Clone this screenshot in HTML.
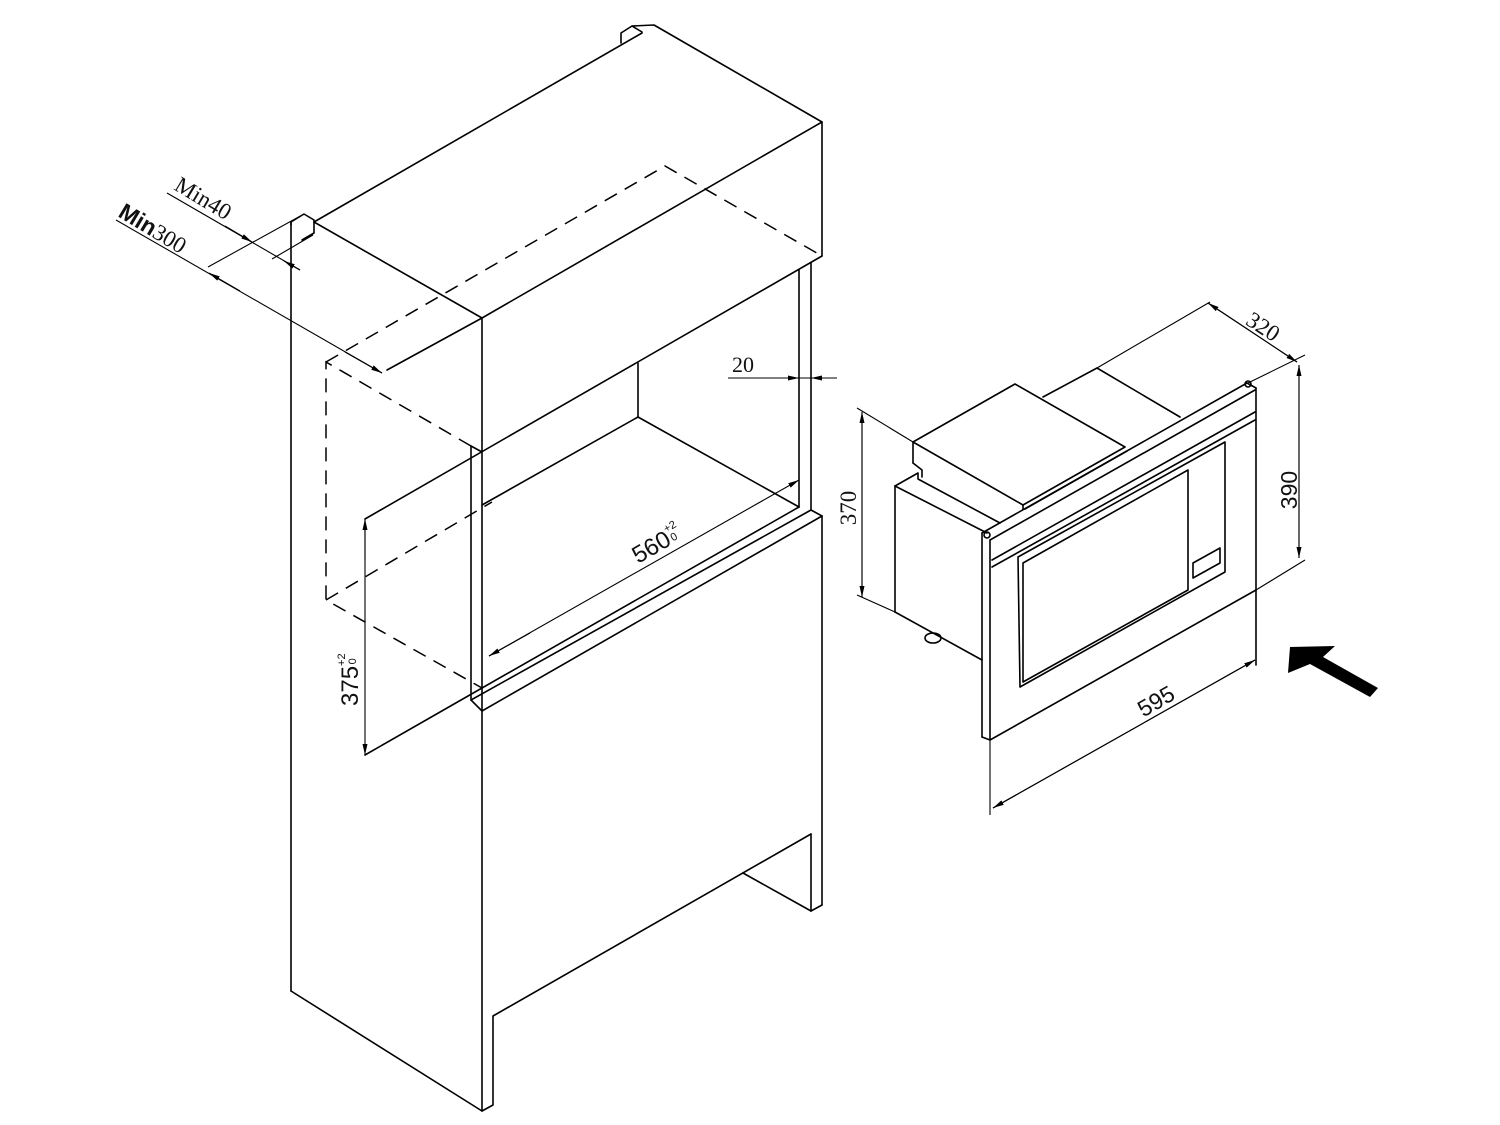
<!DOCTYPE html>
<html><head><meta charset="utf-8"><style>
html,body{margin:0;padding:0;background:#fff;}
svg{display:block;}
.s{stroke:#000;stroke-width:1.6;fill:none;stroke-linecap:round;stroke-linejoin:round;}
.d{stroke:#000;stroke-width:1.5;fill:none;stroke-dasharray:14 9;}
.t{stroke:#000;stroke-width:1.1;fill:none;}
.sans{font-family:"Liberation Sans",sans-serif;fill:#111;}
.serif{font-family:"Liberation Serif",serif;fill:#111;}
</style></head><body>
<svg width="1500" height="1125" viewBox="0 0 1500 1125" xmlns="http://www.w3.org/2000/svg">
<defs>
<marker id="a" markerUnits="userSpaceOnUse" markerWidth="12" markerHeight="6" refX="11" refY="3" orient="auto">
<path d="M0,0.5 L11,3 L0,5.5 Z" fill="#000"/></marker>
</defs>

<g class="s">
<polyline points="314,222 642,33"/>
<polyline points="621,43 621,33 632,26 642,32"/>
<polyline points="632,26 654,25 822,122 822,256"/>
<polyline points="822,122 482,318 314,222"/>
<polyline points="291,225 291,222 304,214 314,220 314,233 302,240"/>
<line x1="387" y1="370" x2="482" y2="318"/>
<line x1="482" y1="318" x2="482" y2="1111"/>
<line x1="365" y1="519" x2="822" y2="256"/>
<line x1="291" y1="222" x2="291" y2="991"/>
<line x1="291" y1="991" x2="482" y2="1111"/>
<polyline points="471,446 482,452"/>
<line x1="471" y1="446" x2="471" y2="700"/>
<line x1="638" y1="363" x2="638" y2="417"/>
<line x1="638" y1="417" x2="799" y2="507"/>
<line x1="638" y1="417" x2="482" y2="505"/>
<line x1="799" y1="270" x2="799" y2="507"/>
<line x1="811" y1="263" x2="811" y2="510"/>
<line x1="482" y1="688" x2="799" y2="507"/>
<line x1="471" y1="700" x2="811" y2="510"/>
<line x1="471" y1="700" x2="482" y2="711"/>
<line x1="482" y1="711" x2="822" y2="516"/>
<line x1="811" y1="510" x2="822" y2="516"/>
<line x1="822" y1="516" x2="822" y2="905"/>
<line x1="811" y1="834" x2="811" y2="911"/>
<line x1="811" y1="911" x2="822" y2="905"/>
<line x1="743" y1="873" x2="811" y2="911"/>
<polyline points="811,834 493,1016 493,1105 482,1111"/>
<line x1="365" y1="755" x2="482" y2="688"/>
</g>

<g class="d">
<polyline points="326,362 665,166 822,256"/>
<polyline points="471,446 326,362 326,600 482,688"/>
<line x1="326" y1="600" x2="492" y2="502"/>
</g>

<g class="t">
<line x1="167" y1="193" x2="300" y2="270"/>
<line x1="225" y1="226" x2="252" y2="242" marker-end="url(#a)"/>
<line x1="300" y1="270" x2="284" y2="261" marker-end="url(#a)"/>
<line x1="272" y1="259" x2="313" y2="235"/>
<line x1="116" y1="220" x2="382" y2="373"/>
<line x1="240" y1="291" x2="209" y2="273" marker-end="url(#a)"/>
<line x1="345" y1="352" x2="382" y2="373" marker-end="url(#a)"/>
<line x1="208" y1="267" x2="304" y2="214"/>
<line x1="728" y1="378" x2="837" y2="378"/>
<line x1="765" y1="378" x2="799" y2="378" marker-end="url(#a)"/>
<line x1="837" y1="378" x2="811" y2="378" marker-end="url(#a)"/>
<line x1="530" y1="633" x2="489" y2="656" marker-end="url(#a)"/>
<line x1="489" y1="656" x2="799" y2="480" marker-end="url(#a)"/>
<line x1="365" y1="560" x2="365" y2="519" marker-end="url(#a)"/>
<line x1="365" y1="519" x2="365" y2="755" marker-end="url(#a)"/>
</g>

<text class="serif" font-size="23" transform="translate(173,189) rotate(31)">Min40</text>
<text font-size="23" transform="translate(117,216) rotate(31)"><tspan class="sans" font-weight="bold">Min</tspan><tspan class="serif">300</tspan></text>
<text class="serif" font-size="22" x="732" y="372">20</text>
<text class="sans" font-size="24" transform="translate(638,564) rotate(-30)">560<tspan font-size="11" dy="-13">+2</tspan><tspan font-size="11" dx="-11" dy="11">0</tspan></text>
<text class="sans" font-size="24" transform="translate(358,706) rotate(-90)">375<tspan font-size="11" dy="-13">+2</tspan><tspan font-size="11" dx="-11" dy="11">0</tspan></text>

<g class="s">
<line x1="895" y1="486" x2="895" y2="612"/>
<line x1="895" y1="612" x2="982" y2="660"/>
<polyline points="895,486 918,473 918,479 1000,523"/>
<line x1="895" y1="486" x2="987" y2="533"/>
<polyline points="913,463 913,442 1015,384 1125,447 1023,505 913,442"/>
<polyline points="913,463 922,470 922,477"/>
<line x1="1023" y1="505" x2="1023" y2="509"/>
<line x1="1025" y1="509" x2="1127" y2="451"/>
<polyline points="1043,397 1097,368 1180,417"/>
<line x1="982" y1="533" x2="1247" y2="383"/>
<line x1="990" y1="540" x2="1255" y2="390"/>
<line x1="992" y1="560" x2="1255" y2="412"/>
<line x1="992" y1="567" x2="1255" y2="420"/>
<line x1="982" y1="533" x2="982" y2="737"/>
<line x1="990" y1="540" x2="990" y2="740"/>
<line x1="982" y1="737" x2="990" y2="740"/>
<line x1="990" y1="740" x2="1256" y2="590"/>
<line x1="1247" y1="383" x2="1256" y2="388"/>
<line x1="1256" y1="388" x2="1256" y2="665"/>
<polygon points="1018,557 1225,442 1225,572 1020,687"/>
<polygon points="1023,563 1188,470 1188,590 1023,682"/>
<polygon points="1193,563 1220,548 1220,563 1193,578"/>
</g>
<circle cx="987" cy="535" r="3" class="s"/>
<circle cx="1248" cy="384" r="3" class="s"/>
<ellipse cx="933" cy="638" rx="8" ry="5" class="s"/>

<g class="t">
<line x1="857" y1="408" x2="913" y2="442"/>
<line x1="857" y1="595" x2="895" y2="612"/>
<line x1="862" y1="597" x2="862" y2="412" marker-end="url(#a)"/>
<line x1="862" y1="412" x2="862" y2="597" marker-end="url(#a)"/>
<line x1="1097" y1="368" x2="1210" y2="302"/>
<line x1="1248" y1="383" x2="1305" y2="355"/>
<line x1="1256" y1="590" x2="1305" y2="560"/>
<line x1="1299" y1="558" x2="1299" y2="365" marker-end="url(#a)"/>
<line x1="1299" y1="365" x2="1299" y2="558" marker-end="url(#a)"/>
<line x1="1297" y1="362" x2="1208" y2="303" marker-end="url(#a)"/>
<line x1="1208" y1="303" x2="1297" y2="362" marker-end="url(#a)"/>
<line x1="990" y1="740" x2="990" y2="815"/>
<line x1="1255" y1="660" x2="993" y2="808" marker-end="url(#a)"/>
<line x1="993" y1="808" x2="1255" y2="660" marker-end="url(#a)"/>
</g>
<text class="serif" font-size="23" text-anchor="middle" transform="translate(856,508) rotate(-90)">370</text>
<text class="sans" font-size="23" text-anchor="middle" transform="translate(1297,490) rotate(-90)">390</text>
<text class="serif" font-size="23" text-anchor="middle" transform="translate(1259,333) rotate(33)">320</text>
<text class="sans" font-size="23" text-anchor="middle" transform="translate(1160,708) rotate(-30)">595</text>

<polygon points="1288,673 1290,647 1335,646 1323,657 1378,688 1370,697 1310,664" fill="#000"/>
</svg>
</body></html>
